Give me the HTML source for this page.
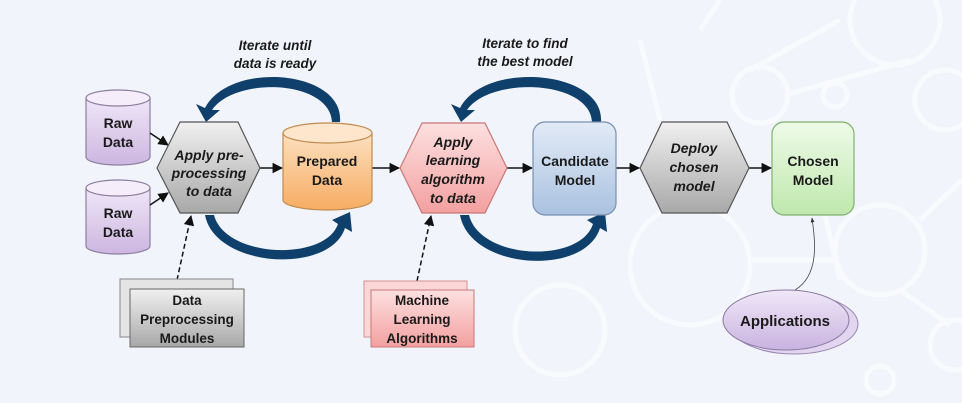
<!DOCTYPE html>
<html><head><style>
html,body{margin:0;padding:0;background:#f1f5fb;}
svg{display:block;}
text{font-family:"Liberation Sans",sans-serif;font-weight:bold;fill:#1a1a1a;}
.it{font-style:italic;}
</style></head><body>
<svg width="962" height="403" viewBox="0 0 962 403" xmlns="http://www.w3.org/2000/svg">
<defs>
<linearGradient id="gPur" x1="0" y1="0" x2="0" y2="1"><stop offset="0" stop-color="#efe6f7"/><stop offset="1" stop-color="#cdb6e0"/></linearGradient>
<linearGradient id="gGray" x1="0" y1="0" x2="0" y2="1"><stop offset="0" stop-color="#f0f0f0"/><stop offset="1" stop-color="#a8a8a8"/></linearGradient>
<linearGradient id="gOr" x1="0" y1="0" x2="0" y2="1"><stop offset="0" stop-color="#fde0c0"/><stop offset="1" stop-color="#f6ac62"/></linearGradient>
<linearGradient id="gPink" x1="0" y1="0" x2="0" y2="1"><stop offset="0" stop-color="#fde0e0"/><stop offset="1" stop-color="#f3a0a0"/></linearGradient>
<linearGradient id="gBlue" x1="0" y1="0" x2="0" y2="1"><stop offset="0" stop-color="#e2ebf6"/><stop offset="1" stop-color="#aac2e0"/></linearGradient>
<linearGradient id="gGreen" x1="0" y1="0" x2="0" y2="1"><stop offset="0" stop-color="#eefbe8"/><stop offset="1" stop-color="#bfe8ad"/></linearGradient>
<linearGradient id="gApp" x1="0" y1="0" x2="0" y2="1"><stop offset="0" stop-color="#f0e8f8"/><stop offset="1" stop-color="#c9b3e0"/></linearGradient>
<marker id="ar" viewBox="0 0 10 10" refX="9" refY="5" markerWidth="7" markerHeight="7" orient="auto"><path d="M0,0 L10,5 L0,10 z" fill="#111"/></marker>
<marker id="ars" viewBox="0 0 10 10" refX="9" refY="5" markerWidth="6" markerHeight="6" orient="auto"><path d="M0,1 L10,5 L0,9 z" fill="#333"/></marker>
</defs>
<g stroke="#ffffff" stroke-width="5" fill="none" opacity="0.55">
<circle cx="895" cy="20" r="45"/><circle cx="760" cy="95" r="28"/><circle cx="835" cy="95" r="12"/>
<circle cx="945" cy="100" r="30"/><circle cx="880" cy="250" r="45"/><circle cx="690" cy="265" r="60"/>
<circle cx="560" cy="330" r="45"/><circle cx="955" cy="345" r="25"/><circle cx="880" cy="380" r="14"/>
<line x1="750" y1="70" x2="840" y2="20"/><line x1="785" y1="95" x2="910" y2="60"/><line x1="810" y1="150" x2="840" y2="280"/>
<line x1="920" y1="220" x2="962" y2="180"/><line x1="750" y1="260" x2="835" y2="260"/><line x1="900" y1="290" x2="950" y2="325"/>
<line x1="640" y1="40" x2="660" y2="120"/><line x1="700" y1="30" x2="720" y2="0"/>
</g>
<text x="275" y="50" font-size="13.5" text-anchor="middle" class="it">Iterate until</text>
<text x="275" y="68" font-size="13.5" text-anchor="middle" class="it">data is ready</text>
<text x="525" y="48" font-size="13.5" text-anchor="middle" class="it">Iterate to find</text>
<text x="525" y="66" font-size="13.5" text-anchor="middle" class="it">the best model</text>
<g fill="#0f3f6b">
<path d="M340,122 C345,70 230,60 205,108 L196,104 L206,122 L220,110 L212,110 C235,76 330,80 332,122 Z"/>
<path d="M205,215 C215,268 330,275 345,228 L352,232 L350,212 L332,220 L338,224 C325,262 225,258 214,215 Z"/>
<path d="M601,122 C605,70 485,60 460,108 L451,104 L461,122 L475,110 L467,110 C490,76 590,80 592,122 Z"/>
<path d="M460,215 C470,270 585,277 600,228 L607,232 L605,212 L587,220 L593,224 C580,264 480,260 469,215 Z"/>
</g>
<g stroke="#8a7fa0" stroke-width="1.2">
<path d="M86,98 L86,157 A32,8 0 0 0 150,157 L150,98 Z" fill="url(#gPur)"/>
<ellipse cx="118" cy="98" rx="32" ry="8" fill="#f5eefa"/>
<path d="M86,188 L86,246 A32,8 0 0 0 150,246 L150,188 Z" fill="url(#gPur)"/>
<ellipse cx="118" cy="188" rx="32" ry="8" fill="#f5eefa"/>
</g>
<text x="118" y="128" font-size="14" text-anchor="middle">Raw</text>
<text x="118" y="147" font-size="14" text-anchor="middle">Data</text>
<text x="118" y="218" font-size="14" text-anchor="middle">Raw</text>
<text x="118" y="237" font-size="14" text-anchor="middle">Data</text>
<g stroke="#111" stroke-width="1.5" fill="none" marker-end="url(#ar)">
<line x1="150" y1="133" x2="168" y2="145"/>
<line x1="150" y1="205" x2="168" y2="193"/>
<line x1="260" y1="168" x2="282" y2="168"/>
<line x1="372" y1="168" x2="399" y2="168"/>
<line x1="507" y1="168" x2="532" y2="168"/>
<line x1="616" y1="168" x2="639" y2="168"/>
<line x1="749" y1="168" x2="771" y2="168"/>
</g>
<g stroke="#111" stroke-width="1.5" fill="none" stroke-dasharray="5,3" marker-end="url(#ar)">
<line x1="177" y1="280" x2="191" y2="216"/>
<line x1="417" y1="281" x2="431" y2="216"/>
</g>
<path d="M795,290 C820,275 815,240 812,218" stroke="#444" stroke-width="0.8" fill="none" marker-end="url(#ars)"/>
<polygon points="157,168 180,122 238,122 260,168 238,213 180,213" fill="url(#gGray)" stroke="#555" stroke-width="1.2"/>
<text x="209" y="160" font-size="14" text-anchor="middle" class="it">Apply pre-</text>
<text x="209" y="178" font-size="14" text-anchor="middle" class="it">processing</text>
<text x="209" y="196" font-size="14" text-anchor="middle" class="it">to data</text>
<g stroke="#c08a50" stroke-width="1.2">
<path d="M283,133 L283,200 A44.5,10 0 0 0 372,200 L372,133 Z" fill="url(#gOr)"/>
<ellipse cx="327.5" cy="133" rx="44.5" ry="10" fill="#fde6cc"/>
</g>
<text x="327" y="166" font-size="14" text-anchor="middle">Prepared</text>
<text x="327" y="185" font-size="14" text-anchor="middle">Data</text>
<polygon points="400,168 422,123 485,123 507,168 485,213 422,213" fill="url(#gPink)" stroke="#c87878" stroke-width="1.2"/>
<text x="453" y="147" font-size="14" text-anchor="middle" class="it">Apply</text>
<text x="453" y="165" font-size="14" text-anchor="middle" class="it">learning</text>
<text x="453" y="184" font-size="14" text-anchor="middle" class="it">algorithm</text>
<text x="453" y="203" font-size="14" text-anchor="middle" class="it">to data</text>
<rect x="533" y="122" width="83" height="93" rx="12" fill="url(#gBlue)" stroke="#7890b0" stroke-width="1.2"/>
<text x="575" y="166" font-size="14" text-anchor="middle">Candidate</text>
<text x="575" y="185" font-size="14" text-anchor="middle">Model</text>
<polygon points="640,168 662,122 727,122 749,168 727,213 662,213" fill="url(#gGray)" stroke="#555" stroke-width="1.2"/>
<text x="694" y="153" font-size="14" text-anchor="middle" class="it">Deploy</text>
<text x="694" y="172" font-size="14" text-anchor="middle" class="it">chosen</text>
<text x="694" y="191" font-size="14" text-anchor="middle" class="it">model</text>
<rect x="772" y="122" width="82" height="93" rx="12" fill="url(#gGreen)" stroke="#80b070" stroke-width="1.2"/>
<text x="813" y="166" font-size="14" text-anchor="middle">Chosen</text>
<text x="813" y="185" font-size="14" text-anchor="middle">Model</text>
<rect x="120" y="279" width="113" height="58" fill="#e4e4e4" stroke="#888" stroke-width="1"/>
<rect x="130" y="289" width="114" height="58" fill="url(#gGray)" stroke="#666" stroke-width="1"/>
<text x="187" y="305" font-size="13.5" text-anchor="middle">Data</text>
<text x="187" y="324" font-size="13.5" text-anchor="middle">Preprocessing</text>
<text x="187" y="343" font-size="13.5" text-anchor="middle">Modules</text>
<rect x="364" y="281" width="103" height="56" fill="#fbd6d6" stroke="#d49090" stroke-width="1"/>
<rect x="371" y="290" width="103" height="57" fill="url(#gPink)" stroke="#c87878" stroke-width="1"/>
<text x="422" y="305" font-size="13.5" text-anchor="middle">Machine</text>
<text x="422" y="324" font-size="13.5" text-anchor="middle">Learning</text>
<text x="422" y="343" font-size="13.5" text-anchor="middle">Algorithms</text>
<ellipse cx="794" cy="324" rx="64" ry="30" fill="#e2d5f0" stroke="#9a88b0" stroke-width="1"/>
<ellipse cx="786" cy="320" rx="63" ry="30" fill="url(#gApp)" stroke="#8a78a0" stroke-width="1"/>
<text x="785" y="326" font-size="15" text-anchor="middle">Applications</text>
</svg>
</body></html>
